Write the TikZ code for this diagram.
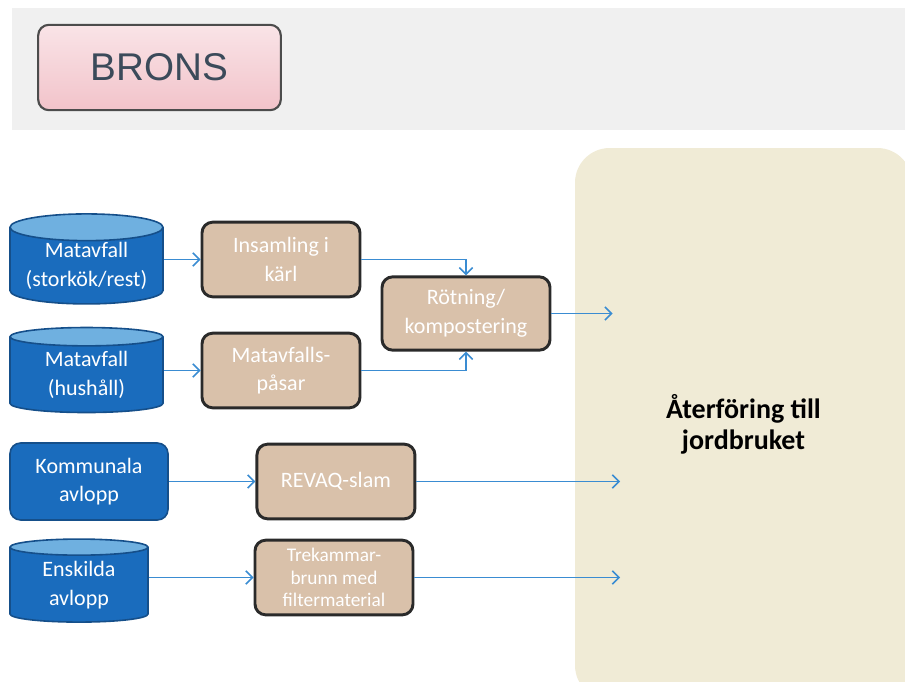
\documentclass[tikz,border=0pt]{standalone}
\usepackage{fontspec}
\setmainfont{Carlito}
\newfontfamily\bronsfont{Liberation Sans}
\usetikzlibrary{arrows.meta,positioning,shapes.geometric}
\definecolor{cylblue}{HTML}{1A6CBD}
\definecolor{cylline}{HTML}{154F8A}
\definecolor{cyltop}{HTML}{6FB0E0}
\definecolor{tanfill}{HTML}{D9C1AA}
\definecolor{tanline}{HTML}{2A2A2A}
\definecolor{goalfill}{HTML}{F0EBD6}
\definecolor{arrblue}{HTML}{3A8CD2}
\definecolor{bronstext}{HTML}{3B4A5A}
\definecolor{bronsfill}{HTML}{F2C3CA}

\begin{document}
\begin{tikzpicture}[x=0.75pt,y=-0.75pt,
    font=\fontsize{16.5}{21.5}\selectfont,node distance=29pt,
    cyl/.style={cylinder,shape border rotate=90,aspect=0.22,draw=cylline,
                line width=1.2pt,cylinder uses custom fill,
                cylinder body fill=cylblue,cylinder end fill=cyltop,
                text=white,align=center,inner sep=0pt,minimum width=114.75pt},
    srcbox/.style={draw=cylline,line width=1.2pt,fill=cylblue,rounded corners=8pt,
                   text=white,align=center,minimum width=118.5pt,minimum height=57.75pt},
    stepbox/.style={draw=tanline,line width=2.2pt,fill=tanfill,rounded corners=8pt,
                    text=white,align=center,minimum width=118.5pt,minimum height=56pt},
    goalbox/.style={fill=goalfill,rounded corners=26pt,align=center,
                    font=\fontsize{21}{23}\selectfont\bfseries},
    titlebox/.style={draw=black!70,line width=1.6pt,rounded corners=8pt,
                     top color=bronsfill!45,bottom color=bronsfill,text=bronstext,
                     minimum width=182pt,minimum height=64pt,
                     font=\bronsfont\fontsize{29}{30}\selectfont},
    arr/.style={-{Straight Barb[length=5pt,width=10pt]},draw=arrblue,line width=1.2pt}]
  \useasboundingbox (0,0) rectangle (905,681);
  \fill[black!6] (12,8) rectangle (905,130);
  \node[titlebox] (brons) at (159.5,67.5) {BRONS};
  \node[goalbox,minimum width=252.75pt,minimum height=414pt] (goal) at (743.5,424)
    {Återföring till\\jordbruket};
  % sources
  \node[cyl,minimum height=67.5pt] (mat1) at (86.5,266) {Matavfall\\(storkök/rest)};
  \node[cyl,minimum height=63.75pt] (mat2) at (86.5,375) {Matavfall\\(hushåll)};
  \node[srcbox] (kom) at (89,481.5) {Kommunala\\avlopp};
  \node[cyl,minimum width=103.5pt,minimum height=62.25pt] (ens) at (79,585) {Enskilda\\avlopp};
  % treatment
  \node[stepbox] (karl) at (281,259.5) {Insamling i\\kärl};
  \node[stepbox] (pasar) at (281,370.5) {Matavfalls-\\påsar};
  \node[stepbox,minimum width=126pt,minimum height=55pt] (rot) at (466,313.5)
    {Rötning/\\kompostering};
  \node[stepbox,right=65pt of kom] (revaq) {REVAQ-slam};
  \node[stepbox,font=\fontsize{14.5}{17}\selectfont] (trek) at (334,577.5)
    {Trekammar-\\brunn med\\filtermaterial};
  % connectors
  \draw[arr] (mat1.east |- karl) -- (karl.west);
  \draw[arr] (mat2.east |- pasar) -- (pasar.west);
  \draw[arr] (karl.east) -| (rot.north);
  \draw[arr] (pasar.east) -| (rot.south);
  \draw[arr] (kom.east) -- (revaq.west);
  \draw[arr] (ens.east |- trek) -- (trek.west);
  \draw[arr] (rot.east) -- ([xshift=28.5pt]rot.east -| goal.west);
  \draw[arr] (revaq.east) -- ([xshift=34pt]revaq.east -| goal.west);
  \draw[arr] (trek.east) -- ([xshift=34pt]trek.east -| goal.west);
\end{tikzpicture}
\end{document}
